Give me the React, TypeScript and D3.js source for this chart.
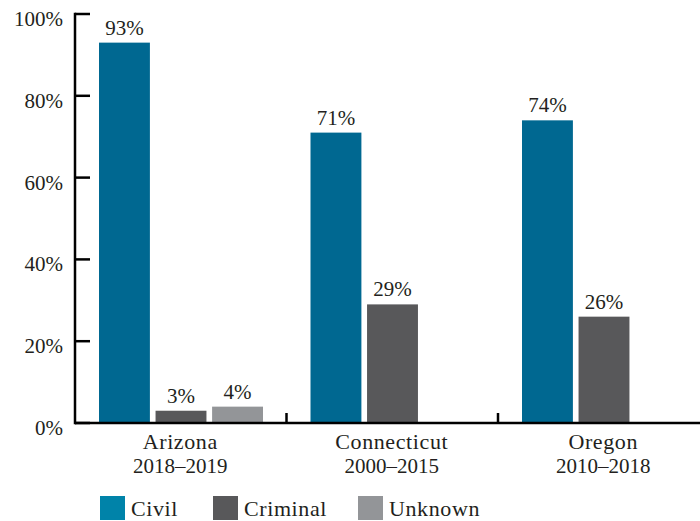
import React from "react";
import * as d3 from "d3";

const categories = ["Arizona", "Connecticut", "Oregon"];
const periods = ["2018–2019", "2000–2015", "2010–2018"];
const seriesNames = ["Civil", "Criminal", "Unknown"];
const civil = [93, 71, 74];
const criminal = [3, 29, 26];
const unknown: (number | null)[] = [4, null, null];
const yTicks = [0, 20, 40, 60, 80, 100];

const barColors = ["#006891", "#58585a", "#939598"];
const legendColors = ["#0083a9", "#58585a", "#939598"];

const W = 700;
const H = 521;
const FONT = "'Liberation Serif', 'Times New Roman', serif";
const TXT = "#231f20";
const FS = 22;
const LS = 0.6;
const NFS = 21;

export default function App() {
  const x0 = 75;
  const bandW = 211.5;
  const x = d3.scaleBand<string>().domain(categories).range([x0, x0 + bandW * 3]).padding(0);
  const xi = d3.scaleBand<string>().domain(seriesNames).range([24, 188]).paddingInner(0.1).paddingOuter(0);
  const y = d3.scaleLinear().domain([0, 100]).range([423, 14]);
  const seriesVals = [civil, criminal, unknown];

  const legendX = [100, 213, 358];

  return (
    <svg width={W} height={H} style={{ position: "absolute", left: 0, top: 0, background: "#fff" }} fontFamily={FONT}>
      {/* bars */}
      {categories.map((c, ci) =>
        seriesNames.map((s, si) => {
          const v = seriesVals[si][ci];
          if (v == null) return null;
          const bx = (x(c) as number) + (xi(s) as number);
          const bw = xi.bandwidth();
          return (
            <g key={c + s}>
              <rect x={bx} y={y(v)} width={bw} height={y(0) - y(v)} fill={barColors[si]} />
              <text x={bx + bw / 2} y={y(v) - 8} textAnchor="middle" fontSize={NFS} fill={TXT}>
                {v}%
              </text>
            </g>
          );
        })
      )}
      {/* y axis */}
      <line x1={x0} x2={x0} y1={y(100) - 1.25} y2={y(0) + 1.25} stroke="#000" strokeWidth={2.5} />
      {yTicks.map((t) => (
        <g key={t}>
          <line x1={x0} x2={x0 + 15} y1={y(t)} y2={y(t)} stroke="#000" strokeWidth={2.5} />
          <text x={63} y={y(t) + 12} textAnchor="end" fontSize={NFS} fill={TXT}>
            {t}%
          </text>
        </g>
      ))}
      {/* x axis */}
      <line x1={x0} x2={W} y1={y(0)} y2={y(0)} stroke="#000" strokeWidth={2.5} />
      {categories.slice(1).map((c) => (
        <line key={c} x1={x(c) as number} x2={x(c) as number} y1={y(0)} y2={y(0) - 10} stroke="#000" strokeWidth={2.5} />
      ))}
      {categories.map((c, ci) => {
        const cx = (x(c) as number) + bandW / 2 - 0.5;
        return (
          <g key={c}>
            <text x={cx} y={449} textAnchor="middle" fontSize={FS} fill={TXT} letterSpacing={LS}>
              {c}
            </text>
            <text x={cx} y={473} textAnchor="middle" fontSize={NFS} fill={TXT}>
              {periods[ci]}
            </text>
          </g>
        );
      })}
      {/* legend */}
      {seriesNames.map((s, si) => (
        <g key={s}>
          <rect x={legendX[si]} y={496} width={25} height={24} fill={legendColors[si]} />
          <text x={legendX[si] + 31} y={516} fontSize={FS} fill={TXT} letterSpacing={LS}>
            {s}
          </text>
        </g>
      ))}
    </svg>
  );
}
